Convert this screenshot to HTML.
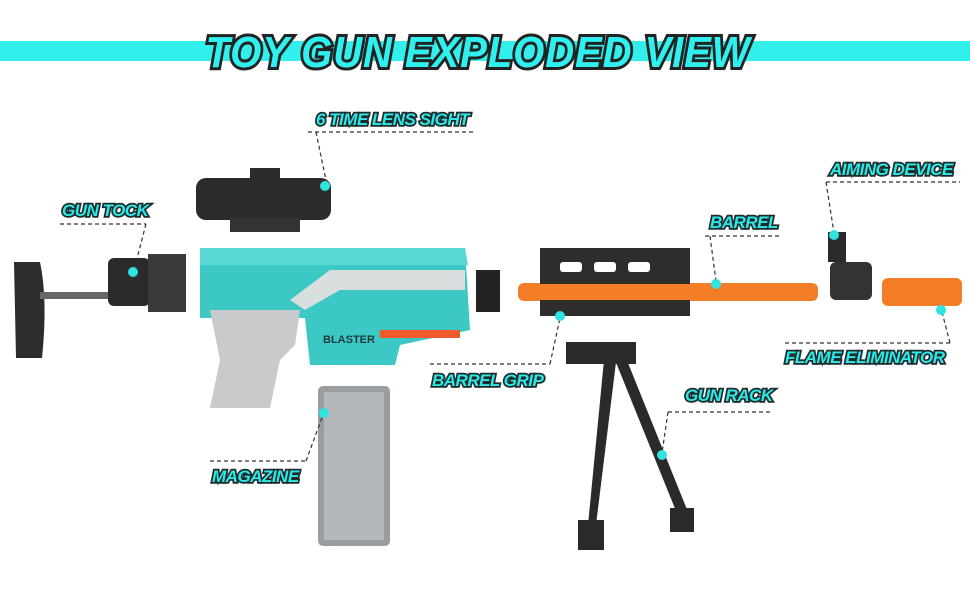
<!DOCTYPE html>
<html><head><meta charset="utf-8"><style>
html,body{margin:0;padding:0;background:#fff;}
svg{display:block;}
.t{font-family:"Liberation Sans",sans-serif;font-weight:bold;font-style:italic;fill:#2de8e6;stroke:#1d2b2b;stroke-width:3.5;paint-order:stroke;letter-spacing:-0.5px;}
.d{stroke:#333;stroke-width:1.2;stroke-dasharray:4 3;fill:none;}
.dot{fill:#2ee3e0;}
</style></head><body>
<svg width="970" height="600" viewBox="0 0 970 600">
<rect x="0" y="41" width="970" height="20" fill="#33efec"/>
<text x="478" y="67" text-anchor="middle" font-family="Liberation Sans,sans-serif" font-weight="bold" font-style="italic" font-size="44" fill="#2ff0ee" stroke="#222" stroke-width="6" paint-order="stroke" letter-spacing="1" textLength="545" lengthAdjust="spacingAndGlyphs">TOY GUN EXPLODED VIEW</text>

<!-- stock -->
<path d="M14 262 L40 262 Q48 300 42 358 L16 358 Z" fill="#2c2c2c"/>
<rect x="40" y="292" width="72" height="7" fill="#666"/>
<rect x="108" y="258" width="42" height="48" rx="6" fill="#2a2a2a"/>
<rect x="148" y="254" width="38" height="58" fill="#3a3a3a"/>
<!-- scope -->
<rect x="196" y="178" width="135" height="42" rx="10" fill="#2b2b2b"/>
<rect x="230" y="218" width="70" height="14" fill="#333"/>
<rect x="250" y="168" width="30" height="12" fill="#2b2b2b"/>
<!-- gun body -->
<path d="M200 248 L465 248 L470 330 L400 345 L395 365 L310 365 L305 318 L200 318 Z" fill="#3cc8c4"/>
<path d="M200 248 L465 248 L468 265 L200 265 Z" fill="#5ad8d4"/>
<path d="M290 300 L330 270 L465 270 L465 290 L340 290 L305 310 Z" fill="#d9dede"/>
<rect x="380" y="330" width="80" height="8" fill="#f05a2a"/>
<path d="M210 310 L300 310 L295 345 L280 360 L270 408 L210 408 L220 360 Z" fill="#c8cacb"/>
<text x="323" y="343" font-family="Liberation Sans,sans-serif" font-weight="bold" font-size="11" fill="#1b3b3a">BLASTER</text>
<!-- magazine -->
<rect x="318" y="386" width="72" height="160" rx="5" fill="#9a9d9f"/>
<rect x="324" y="392" width="60" height="148" fill="#b5b8ba"/>
<!-- barrel + grip -->
<rect x="476" y="270" width="24" height="42" fill="#222"/>
<rect x="518" y="283" width="300" height="18" rx="6" fill="#f47e28"/>
<rect x="540" y="248" width="150" height="36" fill="#2d2d2d"/>
<rect x="560" y="262" width="22" height="10" rx="3" fill="#fff"/>
<rect x="594" y="262" width="22" height="10" rx="3" fill="#fff"/>
<rect x="628" y="262" width="22" height="10" rx="3" fill="#fff"/>
<rect x="540" y="300" width="150" height="16" fill="#2d2d2d"/>
<!-- aiming device -->
<rect x="828" y="232" width="18" height="30" fill="#2a2a2a"/>
<rect x="830" y="262" width="42" height="38" rx="6" fill="#333"/>
<!-- flame eliminator -->
<rect x="882" y="278" width="80" height="28" rx="6" fill="#f47e28"/>
<!-- bipod -->
<rect x="566" y="342" width="70" height="22" fill="#2a2a2a"/>
<path d="M604 360 L616 362 L596 525 L588 525 Z" fill="#2a2a2a"/>
<path d="M615 360 L626 358 L688 512 L678 516 Z" fill="#2a2a2a"/>
<rect x="578" y="520" width="26" height="30" fill="#2a2a2a"/>
<rect x="670" y="508" width="24" height="24" fill="#2a2a2a"/>

<!-- labels & leaders -->
<text class="t" x="316" y="125" font-size="17">6 TIME LENS SIGHT</text>
<path class="d" d="M308 132 H476 M316 132 L327 185"/><circle class="dot" cx="325" cy="186" r="5"/>
<text class="t" x="62" y="216" font-size="17">GUN TOCK</text>
<path class="d" d="M60 224 H146 M146 224 L134 270"/><circle class="dot" cx="133" cy="272" r="5"/>
<text class="t" x="830" y="175" font-size="17">AIMING DEVICE</text>
<path class="d" d="M826 182 H960 M826 182 L834 233"/><circle class="dot" cx="834" cy="235" r="5"/>
<text class="t" x="710" y="228" font-size="17">BARREL</text>
<path class="d" d="M705 236 H780 M710 236 L716 281"/><circle class="dot" cx="716" cy="284" r="5"/>
<text class="t" x="785" y="363" font-size="17">FLAME ELIMINATOR</text>
<path class="d" d="M785 343 H950 M950 343 L942 312"/><circle class="dot" cx="941" cy="310" r="5"/>
<text class="t" x="432" y="386" font-size="17">BARREL GRIP</text>
<path class="d" d="M430 364 H550 M550 364 L560 318"/><circle class="dot" cx="560" cy="316" r="5"/>
<text class="t" x="685" y="401" font-size="17">GUN RACK</text>
<path class="d" d="M668 412 H772 M668 412 L662 453"/><circle class="dot" cx="662" cy="455" r="5"/>
<text class="t" x="212" y="482" font-size="17">MAGAZINE</text>
<path class="d" d="M210 461 H306 M306 461 L323 415"/><circle class="dot" cx="324" cy="413" r="5"/>
</svg>
</body></html>
